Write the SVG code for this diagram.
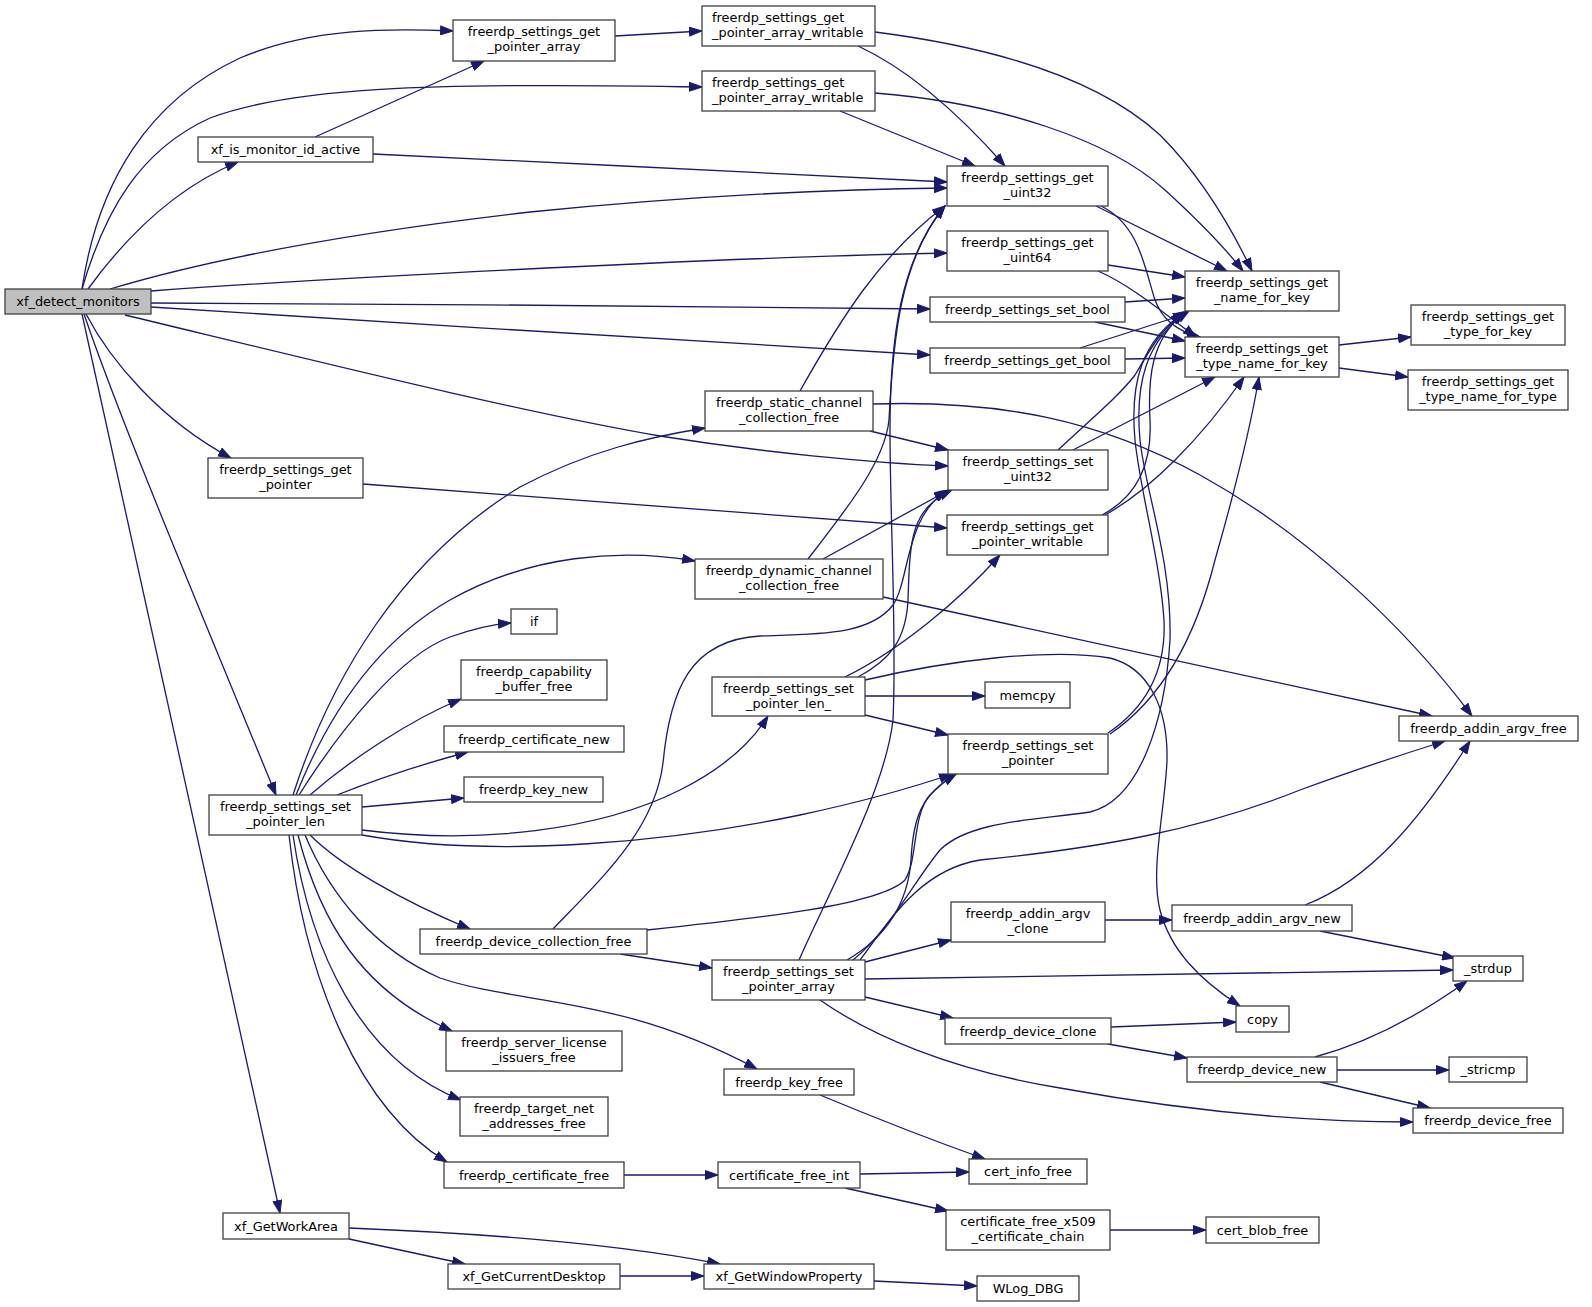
<svg xmlns="http://www.w3.org/2000/svg" width="1592" height="1307" viewBox="0 0 1592 1307">
<defs>
<marker id="ah" markerUnits="userSpaceOnUse" markerWidth="14" markerHeight="10" refX="13" refY="5" viewBox="0 0 14 10" orient="auto"><path d="M0.5,0.6 L13,5 L0.5,9.4 Z" fill="#191970" stroke="#191970" stroke-width="1"/></marker>
</defs>
<style>
.node rect{fill:#ffffff;stroke:#404040;stroke-width:1.3}
.root rect{fill:#bfbfbf}
.node text{font-family:"DejaVu Sans",sans-serif;font-size:12.9px;fill:#000000;text-anchor:middle}
.node text.l{text-anchor:start}
.edges path{fill:none;stroke:#191970;stroke-width:1.3;marker-end:url(#ah)}
</style>
<rect width="1592" height="1307" fill="#ffffff"/>
<g id="edges" class="edges">
<path d="M82,289 C98,180 150,100 240,58 C310,28 390,28 453,31"/>
<path d="M82,289 C105,210 140,150 210,118 C290,88 420,82 702,87"/>
<path d="M88,289 C120,245 170,190 238,162"/>
<path d="M110,289 C200,262 330,235 530,212 C700,195 850,189 947,188"/>
<path d="M151,291 C300,280 700,258 947,253"/>
<path d="M151,303 C400,304 700,306 930,309"/>
<path d="M151,307 C400,322 700,343 930,355"/>
<path d="M125,315 C320,362 520,412 660,436 C760,452 870,463 948,466"/>
<path d="M86,314 C110,360 160,420 231,458"/>
<path d="M84,314 C120,420 200,610 276,795"/>
<path d="M82,314 L280,1213"/>
<path d="M315,137 L484,61"/>
<path d="M373,154 C550,162 800,175 947,182"/>
<path d="M615,36 L702,31"/>
<path d="M858,46 C910,70 960,115 1005,166"/>
<path d="M875,32 C1000,48 1100,80 1160,135 C1200,175 1230,225 1252,271"/>
<path d="M840,111 L975,166"/>
<path d="M875,93 C1000,103 1110,140 1165,190 C1200,222 1225,248 1243,271"/>
<path d="M1096,206 L1227,271"/>
<path d="M1101,206 C1140,225 1145,270 1155,300 C1163,322 1180,332 1200,337"/>
<path d="M1108,265 L1185,277"/>
<path d="M1098,271 C1130,285 1160,310 1196,337"/>
<path d="M1125,302 L1185,298"/>
<path d="M1095,322 L1185,341"/>
<path d="M1080,348 L1186,314"/>
<path d="M1125,359 L1185,358"/>
<path d="M1339,345 L1411,337"/>
<path d="M1339,368 L1408,377"/>
<path d="M800,391 C840,320 880,255 945,206"/>
<path d="M870,431 L948,450"/>
<path d="M873,404 C1000,400 1100,420 1200,475 C1300,530 1400,620 1472,716"/>
<path d="M363,484 L947,528"/>
<path d="M808,559 C850,505 885,460 889,420 C893,340 900,260 945,206"/>
<path d="M823,559 L947,491"/>
<path d="M883,597 L1432,716"/>
<path d="M293,795 C330,680 400,560 520,487 C590,450 650,437 705,428"/>
<path d="M296,795 C330,710 380,640 450,600 C530,555 620,548 695,561"/>
<path d="M299,795 C340,730 400,655 450,637 C475,628 495,624 511,623"/>
<path d="M310,795 C350,760 410,720 461,699"/>
<path d="M337,795 C380,778 430,762 468,752"/>
<path d="M362,807 L464,798"/>
<path d="M362,830 C480,845 600,830 680,790 C720,770 750,745 768,716"/>
<path d="M362,835 C500,860 680,840 800,815 C870,800 920,785 952,774"/>
<path d="M310,835 C340,865 400,900 470,929"/>
<path d="M305,835 C330,895 375,950 440,978 C520,1005 620,995 757,1069"/>
<path d="M298,835 C320,920 360,990 452,1031"/>
<path d="M293,835 C310,950 360,1060 461,1100"/>
<path d="M289,835 C305,980 360,1110 447,1162"/>
<path d="M553,929 C600,880 655,830 663,763 C670,690 690,640 760,636 C820,634 870,635 893,605 C910,580 905,515 948,490"/>
<path d="M647,930 C760,918 880,905 905,880 C918,860 912,815 930,795 C940,785 948,779 956,774"/>
<path d="M620,954 L712,968"/>
<path d="M858,677 C890,660 906,640 908,600 C910,540 910,510 952,490"/>
<path d="M845,677 C900,650 960,600 1000,555"/>
<path d="M865,680 C950,660 1050,648 1110,658 C1150,668 1168,710 1167,760 C1165,810 1150,870 1160,910 C1170,950 1200,980 1240,1006"/>
<path d="M865,696 L985,696"/>
<path d="M865,715 L948,735"/>
<path d="M1108,733 C1150,705 1166,665 1164,620 C1160,560 1140,490 1135,440 C1130,385 1140,340 1187,311"/>
<path d="M1110,734 C1160,700 1195,640 1215,560 C1235,490 1250,430 1259,377"/>
<path d="M853,960 C890,930 915,880 940,850 C970,820 1040,820 1090,812 C1140,800 1165,720 1170,640 C1172,560 1145,490 1140,440 C1135,385 1145,340 1189,311"/>
<path d="M860,960 C890,920 920,870 980,860 C1100,848 1200,830 1300,790 C1360,768 1410,752 1445,741"/>
<path d="M799,960 C830,890 885,790 893,720 C897,640 890,520 890,430 C890,340 900,260 945,206"/>
<path d="M847,960 C890,935 908,900 911,860 C913,820 920,795 956,774"/>
<path d="M865,962 L951,940"/>
<path d="M865,979 L1453,970"/>
<path d="M865,997 L953,1018"/>
<path d="M820,1000 C870,1035 950,1070 1060,1088 C1180,1110 1300,1122 1413,1122"/>
<path d="M1105,920 L1172,920"/>
<path d="M1305,905 C1370,880 1420,820 1470,741"/>
<path d="M1320,931 L1455,958"/>
<path d="M1111,1027 L1236,1022"/>
<path d="M1108,1044 L1187,1058"/>
<path d="M1315,1057 C1370,1042 1420,1015 1467,981"/>
<path d="M1337,1070 L1449,1070"/>
<path d="M1320,1082 L1430,1108"/>
<path d="M820,1095 C880,1120 940,1143 985,1159"/>
<path d="M624,1175 L718,1175"/>
<path d="M860,1174 L969,1172"/>
<path d="M845,1188 L948,1211"/>
<path d="M1110,1230 L1206,1230"/>
<path d="M349,1228 C450,1232 600,1240 720,1264"/>
<path d="M349,1239 L465,1264"/>
<path d="M620,1276 L704,1276"/>
<path d="M874,1281 L977,1286"/>
<path d="M1102,515 C1140,495 1152,460 1150,420 C1148,380 1150,340 1185,312"/>
<path d="M1105,515 C1150,490 1200,440 1244,377"/>
<path d="M1058,450 C1090,420 1120,395 1135,375 C1150,350 1160,330 1184,313"/>
<path d="M1073,450 L1215,377"/>
</g>
<g id="xf_detect_monitors" class="node root"><rect x="5" y="289" width="146" height="25"/><text x="78" y="306">xf_detect_monitors</text></g>
<g id="freerdp_settings_get_pointer_array" class="node"><rect x="453" y="20" width="162" height="41"/><text x="534" y="36">freerdp_settings_get</text><text x="534" y="51">_pointer_array</text></g>
<g id="freerdp_settings_get_pointer_array_writable_1" class="node"><rect x="702" y="6" width="173" height="40"/><text class="l" x="712" y="22">freerdp_settings_get</text><text class="l" x="712" y="37">_pointer_array_writable</text></g>
<g id="freerdp_settings_get_pointer_array_writable_2" class="node"><rect x="702" y="71" width="173" height="40"/><text class="l" x="712" y="87">freerdp_settings_get</text><text class="l" x="712" y="102">_pointer_array_writable</text></g>
<g id="xf_is_monitor_id_active" class="node"><rect x="198" y="137" width="175" height="25"/><text x="285.5" y="154">xf_is_monitor_id_active</text></g>
<g id="freerdp_settings_get_uint32" class="node"><rect x="947" y="166" width="161" height="40"/><text x="1027.5" y="182">freerdp_settings_get</text><text x="1027.5" y="197">_uint32</text></g>
<g id="freerdp_settings_get_uint64" class="node"><rect x="947" y="231" width="161" height="40"/><text x="1027.5" y="247">freerdp_settings_get</text><text x="1027.5" y="262">_uint64</text></g>
<g id="freerdp_settings_set_bool" class="node"><rect x="930" y="297" width="195" height="25"/><text x="1027.5" y="314">freerdp_settings_set_bool</text></g>
<g id="freerdp_settings_get_bool" class="node"><rect x="930" y="348" width="195" height="25"/><text x="1027.5" y="365">freerdp_settings_get_bool</text></g>
<g id="freerdp_settings_get_name_for_key" class="node"><rect x="1185" y="271" width="154" height="40"/><text x="1262" y="287">freerdp_settings_get</text><text x="1262" y="302">_name_for_key</text></g>
<g id="freerdp_settings_get_type_name_for_key" class="node"><rect x="1185" y="337" width="154" height="40"/><text x="1262" y="353">freerdp_settings_get</text><text x="1262" y="368">_type_name_for_key</text></g>
<g id="freerdp_settings_get_type_for_key" class="node"><rect x="1411" y="305" width="154" height="40"/><text x="1488" y="321">freerdp_settings_get</text><text x="1488" y="336">_type_for_key</text></g>
<g id="freerdp_settings_get_type_name_for_type" class="node"><rect x="1408" y="370" width="160" height="40"/><text x="1488" y="386">freerdp_settings_get</text><text x="1488" y="401">_type_name_for_type</text></g>
<g id="freerdp_static_channel_collection_free" class="node"><rect x="705" y="391" width="168" height="40"/><text x="789" y="407">freerdp_static_channel</text><text x="789" y="422">_collection_free</text></g>
<g id="freerdp_settings_set_uint32" class="node"><rect x="948" y="450" width="160" height="40"/><text x="1028" y="466">freerdp_settings_set</text><text x="1028" y="481">_uint32</text></g>
<g id="freerdp_settings_get_pointer" class="node"><rect x="208" y="458" width="155" height="40"/><text x="285.5" y="474">freerdp_settings_get</text><text x="285.5" y="489">_pointer</text></g>
<g id="freerdp_settings_get_pointer_writable" class="node"><rect x="947" y="515" width="161" height="40"/><text x="1027.5" y="531">freerdp_settings_get</text><text x="1027.5" y="546">_pointer_writable</text></g>
<g id="freerdp_dynamic_channel_collection_free" class="node"><rect x="695" y="559" width="188" height="40"/><text x="789" y="575">freerdp_dynamic_channel</text><text x="789" y="590">_collection_free</text></g>
<g id="if" class="node"><rect x="511" y="609" width="46" height="25"/><text x="534" y="626">if</text></g>
<g id="freerdp_capability_buffer_free" class="node"><rect x="461" y="660" width="146" height="40"/><text x="534" y="676">freerdp_capability</text><text x="534" y="691">_buffer_free</text></g>
<g id="freerdp_certificate_new" class="node"><rect x="444" y="726" width="180" height="26"/><text x="534" y="744">freerdp_certificate_new</text></g>
<g id="freerdp_key_new" class="node"><rect x="464" y="777" width="139" height="25"/><text x="533.5" y="794">freerdp_key_new</text></g>
<g id="freerdp_settings_set_pointer_len" class="node"><rect x="209" y="795" width="153" height="40"/><text x="285.5" y="811">freerdp_settings_set</text><text x="285.5" y="826">_pointer_len</text></g>
<g id="freerdp_settings_set_pointer_len_" class="node"><rect x="712" y="677" width="153" height="39"/><text x="788.5" y="693">freerdp_settings_set</text><text x="788.5" y="708">_pointer_len_</text></g>
<g id="memcpy" class="node"><rect x="985" y="682" width="85" height="26"/><text x="1027.5" y="700">memcpy</text></g>
<g id="freerdp_settings_set_pointer" class="node"><rect x="948" y="734" width="160" height="40"/><text x="1028" y="750">freerdp_settings_set</text><text x="1028" y="765">_pointer</text></g>
<g id="freerdp_addin_argv_free" class="node"><rect x="1399" y="716" width="179" height="25"/><text x="1488.5" y="733">freerdp_addin_argv_free</text></g>
<g id="freerdp_device_collection_free" class="node"><rect x="420" y="929" width="227" height="25"/><text x="533.5" y="946">freerdp_device_collection_free</text></g>
<g id="freerdp_settings_set_pointer_array" class="node"><rect x="712" y="960" width="153" height="40"/><text x="788.5" y="976">freerdp_settings_set</text><text x="788.5" y="991">_pointer_array</text></g>
<g id="freerdp_addin_argv_clone" class="node"><rect x="951" y="902" width="154" height="40"/><text x="1028" y="918">freerdp_addin_argv</text><text x="1028" y="933">_clone</text></g>
<g id="freerdp_addin_argv_new" class="node"><rect x="1172" y="905" width="180" height="26"/><text x="1262" y="923">freerdp_addin_argv_new</text></g>
<g id="_strdup" class="node"><rect x="1453" y="956" width="70" height="25"/><text x="1488" y="973">_strdup</text></g>
<g id="copy" class="node"><rect x="1236" y="1006" width="53" height="26"/><text x="1262.5" y="1024">copy</text></g>
<g id="freerdp_device_clone" class="node"><rect x="945" y="1018" width="166" height="26"/><text x="1028" y="1036">freerdp_device_clone</text></g>
<g id="freerdp_device_new" class="node"><rect x="1187" y="1057" width="150" height="25"/><text x="1262" y="1074">freerdp_device_new</text></g>
<g id="_stricmp" class="node"><rect x="1449" y="1057" width="78" height="25"/><text x="1488" y="1074">_stricmp</text></g>
<g id="freerdp_device_free" class="node"><rect x="1413" y="1108" width="150" height="25"/><text x="1488" y="1125">freerdp_device_free</text></g>
<g id="freerdp_key_free" class="node"><rect x="724" y="1069" width="130" height="26"/><text x="789" y="1087">freerdp_key_free</text></g>
<g id="freerdp_server_license_issuers_free" class="node"><rect x="446" y="1031" width="176" height="40"/><text x="534" y="1047">freerdp_server_license</text><text x="534" y="1062">_issuers_free</text></g>
<g id="freerdp_target_net_addresses_free" class="node"><rect x="460" y="1097" width="148" height="39"/><text x="534" y="1113">freerdp_target_net</text><text x="534" y="1128">_addresses_free</text></g>
<g id="freerdp_certificate_free" class="node"><rect x="444" y="1162" width="180" height="26"/><text x="534" y="1180">freerdp_certificate_free</text></g>
<g id="certificate_free_int" class="node"><rect x="718" y="1162" width="142" height="26"/><text x="789" y="1180">certificate_free_int</text></g>
<g id="cert_info_free" class="node"><rect x="969" y="1159" width="118" height="25"/><text x="1028" y="1176">cert_info_free</text></g>
<g id="certificate_free_x509_certificate_chain" class="node"><rect x="946" y="1210" width="164" height="40"/><text x="1028" y="1226">certificate_free_x509</text><text x="1028" y="1241">_certificate_chain</text></g>
<g id="cert_blob_free" class="node"><rect x="1206" y="1217" width="113" height="26"/><text x="1262.5" y="1235">cert_blob_free</text></g>
<g id="xf_GetWorkArea" class="node"><rect x="223" y="1213" width="126" height="26"/><text x="286" y="1231">xf_GetWorkArea</text></g>
<g id="xf_GetCurrentDesktop" class="node"><rect x="448" y="1264" width="172" height="25"/><text x="534" y="1281">xf_GetCurrentDesktop</text></g>
<g id="xf_GetWindowProperty" class="node"><rect x="704" y="1264" width="170" height="25"/><text x="789" y="1281">xf_GetWindowProperty</text></g>
<g id="WLog_DBG" class="node"><rect x="977" y="1276" width="102" height="25"/><text x="1028" y="1293">WLog_DBG</text></g>
</svg>
